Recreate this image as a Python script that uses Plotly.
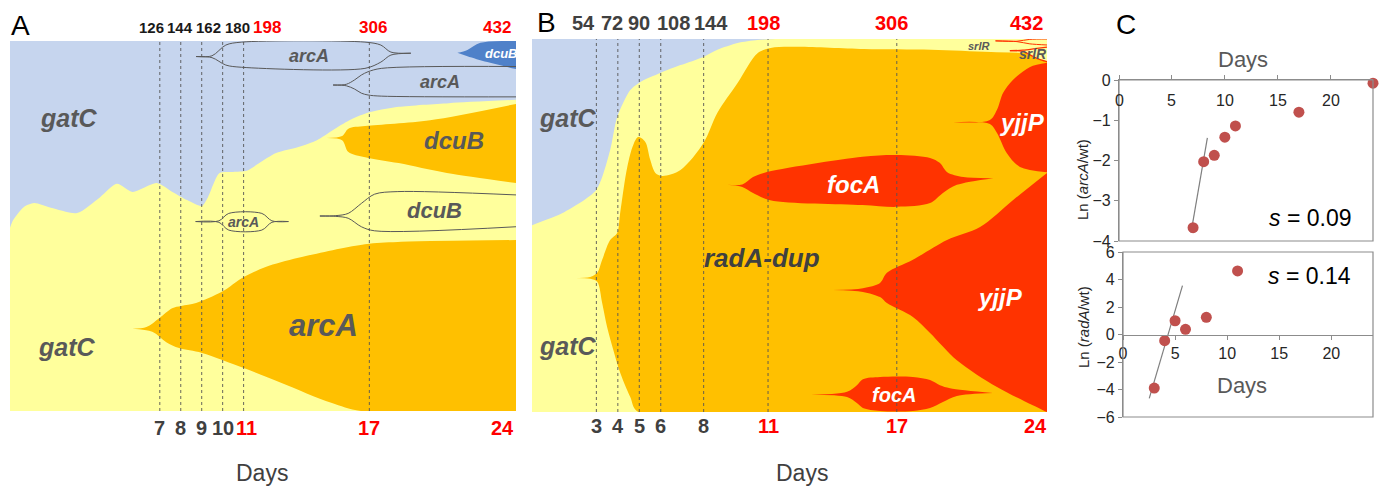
import plotly.graph_objects as go

W, H = 1385, 489

# ---------------- Panel A: Muller plot (frequency %, by day) ----------------
A_days = [7, 8, 9, 10, 11, 17, 24]
A_gens = [126, 144, 162, 180, 198, 306, 432]
A_sequenced = [11, 17, 24]

A_gatC_day = [-0.15, 0, 0.5, 1.0, 1.8, 3.05, 4.15, 4.95, 5.7, 6.85, 7.6, 8.3, 9.0, 9.3,
              9.85, 10.5, 11.15, 11.75, 12.55, 13.65, 14.5, 15.25, 16.05, 16.85, 18.4, 20.8, 24]
A_gatC_freq = [49.5, 51.6, 55.1, 56.2, 54.9, 53.5, 57.8, 61.4, 59.2, 61.6, 59.2, 57.0, 55.4, 57.8,
               64.3, 64.6, 64.9, 67.0, 69.7, 71.4, 73.2, 75.9, 78.6, 80.5, 82.2, 83.2, 84.1]

A_arcA_up_day = [5.69, 6.36, 6.97, 7.59, 8.02, 8.73, 9.96, 11.01, 12.05, 13.61, 16.79, 18.36, 24]
A_arcA_up = [22.2, 22.7, 25.1, 27.8, 28.4, 29.2, 32.2, 36.2, 38.9, 41.4, 45.1, 45.7, 46.2]
A_arcA_lo_day = [5.69, 6.64, 7.31, 7.92, 9.01, 11.01, 12.81, 15.18, 16.6, 24]
A_arcA_lo = [22.2, 21.4, 18.6, 17.0, 15.7, 11.6, 7.6, 2.2, 0, 0]

A_dcuB_up_day = [14.94, 15.7, 16.0, 16.8, 19.9, 24]
A_dcuB_up = [73.8, 74.3, 76.3, 77.0, 78.6, 83.0]
A_dcuB_lo_day = [14.94, 15.7, 16.0, 16.8, 18.4, 20.7, 24]
A_dcuB_lo = [73.8, 73.2, 70.0, 68.6, 67.0, 64.3, 61.6]

A_dcuB2_up_day = [21.2, 21.68, 22.3, 24]
A_dcuB2_up = [96.8, 97.6, 99.5, 100]
A_dcuB2_lo_day = [21.2, 21.68, 22.63, 24]
A_dcuB2_lo = [96.8, 95.9, 94.3, 92.4]

# outlined (sub-threshold) lineages in A
A_arcA1_day = [8.73, 9.49, 10.15, 10.91, 16.79, 17.55, 18.03, 18.98]
A_arcA1_up = [95.8, 96.0, 98.9, 99.7, 99.7, 98.9, 97.0, 96.7]
A_arcA1_lo = [95.8, 95.5, 93.5, 92.9, 92.6, 94.3, 96.2, 96.7]

A_arcA2_day = [15.27, 15.9, 16.3, 16.62, 16.94, 17.57, 24]
A_arcA2_up = [88.1, 88.3, 89.5, 90.8, 91.7, 92.6, 93.1]
A_arcA2_lo = [88.1, 87.9, 87.0, 85.9, 85.4, 85.1, 84.9]

A_arcA3_day = [8.71, 9.82, 10.29, 11.87, 12.35, 13.14]
A_arcA3_up = [51.2, 51.4, 53.4, 53.4, 51.4, 51.2]
A_arcA3_lo = [51.2, 51.0, 48.9, 48.9, 51.0, 51.2]

A_dcuB3_up_day = [14.64, 15.4, 15.99, 16.62, 17.25, 18.36, 24]
A_dcuB3_up = [52.7, 52.8, 53.4, 56.1, 58.6, 59.3, 58.4]
A_dcuB3_lo_day = [14.64, 15.4, 15.99, 16.62, 17.25, 24]
A_dcuB3_lo = [52.7, 52.6, 52.1, 49.8, 48.7, 49.8]

# ---------------- Panel B: Muller plot ----------------
B_days = [3, 4, 5, 6, 8, 11, 17, 24]
B_gens = [54, 72, 90, 108, 144, 198, 306, 432]
B_sequenced = [11, 17, 24]

B_gatC_day = [0, 1.45, 2.99, 3.64, 3.97, 4.58, 5.05, 5.98, 6.92, 7.99, 8.64, 9.58, 10.51, 11.36, 24]
B_gatC_freq = [50.1, 53.4, 59.5, 70.2, 79.1, 86.3, 88.5, 90.9, 93.0, 95.2, 97.1, 98.9, 99.7, 100, 100]

B_radA_up_day = [1.78, 2.71, 3.04, 3.27, 3.64, 3.97, 4.11, 4.44, 4.72, 4.95, 5.28, 5.51, 5.75, 6.07,
                 6.92, 7.99, 8.64, 9.58, 10.51, 11.12, 12.38, 15.47, 18.6, 21.4, 24]
B_radA_up = [35.9, 36.2, 37.3, 40.8, 46.1, 48.0, 53.4, 65.7, 71.6, 73.7, 72.4, 67.6, 64.1, 63.3,
             64.9, 72.1, 80.2, 88.2, 96.2, 97.6, 97.9, 97.3, 97.1, 96.5, 96.2]
B_radA_lo_day = [1.78, 2.71, 3.04, 3.27, 3.5, 3.79, 4.11, 4.58, 4.95, 24]
B_radA_lo = [35.9, 35.7, 34.9, 29.2, 22.8, 16.6, 10.5, 4.0, 0, 0]

B_focA1_up_day = [9.1, 9.8, 10.3, 10.8, 15.4, 17.0, 18.55, 19.0, 19.35, 20.1, 21.5]
B_focA1_up = [60.9, 61.0, 63.0, 64.1, 68.4, 68.9, 68.1, 66.8, 64.3, 63.0, 62.7]
B_focA1_lo_day = [9.1, 9.8, 10.3, 11.1, 15.4, 17.0, 18.55, 19.15, 19.8, 21.5]
B_focA1_lo = [60.9, 60.3, 58.7, 56.8, 55.5, 55.0, 56.0, 58.7, 60.9, 62.7]

B_yjjP1_up_day = [19.62, 21.34, 21.67, 21.95, 22.41, 23.21, 24]
B_yjjP1_up = [77.7, 78.3, 81.0, 85.5, 89.0, 92.5, 93.6]
B_yjjP1_lo_day = [19.62, 21.34, 21.67, 22.13, 22.74, 24]
B_yjjP1_lo = [77.7, 77.2, 74.8, 69.4, 65.7, 64.3]

B_yjjP2_up_day = [14.03, 15.42, 16.22, 16.54, 17.75, 19.34, 20.88, 22.41, 24]
B_yjjP2_up = [32.7, 33.2, 34.6, 37.3, 40.8, 46.1, 49.6, 56.8, 64.1]
B_yjjP2_lo_day = [14.03, 15.42, 16.22, 16.54, 17.75, 18.55, 19.8, 21.67, 23.81, 24]
B_yjjP2_lo = [32.7, 32.2, 30.8, 29.2, 25.5, 21.2, 13.9, 6.7, 0.5, 0]

B_focA2_up_day = [12.63, 14.68, 15.14, 15.42, 16.22, 17.75, 18.55, 19.01, 19.48, 21.48]
B_focA2_up = [4.6, 5.4, 7.2, 8.8, 9.4, 9.4, 8.6, 7.2, 6.4, 5.1]
B_focA2_lo_day = [12.63, 14.68, 15.14, 15.42, 16.22, 17.75, 18.55, 19.15, 19.8, 21.48]
B_focA2_lo = [4.6, 4.0, 2.4, 1.1, 0.3, 0.3, 1.1, 2.7, 4.3, 5.1]

B_srlR1_day = [21.6, 22.6, 23.2, 24]
B_srlR1_up = [99.5, 99.4, 99.9, 100]
B_srlR1_lo = [99.5, 99.3, 98.7, 98.4]

B_srlR2_day = [22.27, 22.88, 23.53, 24]
B_srlR2_up = [96.9, 97.0, 97.5, 97.8]
B_srlR2_lo = [96.9, 96.6, 94.8, 93.9]

# ---------------- Panel C: ln ratios ----------------
C_arcA_day = [7, 8, 9, 10, 11, 17, 24]
C_arcA_ln = [-3.67, -2.03, -1.87, -1.42, -1.14, -0.80, -0.08]
C_arcA_fit_day = [6.8, 8.35]
C_arcA_fit_ln = [-3.8, -1.44]
C_arcA_s = 0.09

C_radA_day = [3, 4, 5, 6, 8, 11]
C_radA_ln = [-3.9, -0.45, 1.0, 0.38, 1.25, 4.62]
C_radA_fit_day = [2.52, 5.71]
C_radA_fit_ln = [-4.64, 3.55]
C_radA_s = 0.14

C_ticks_x = [0, 5, 10, 15, 20]
C_ticks_y1 = [0, -1, -2, -3, -4]
C_ticks_y2 = [6, 4, 2, 0, -2, -4, -6]

# ---------------- styling ----------------
BLUE = '#C6D5EE'
YELLOW = '#FFFF9C'
ORANGE = '#FFC000'
RED = '#FF3300'
DBLUE = '#4F81C9'
GRAY = '#595959'
DARK = '#404040'
FONT = 'Arial, Liberation Sans, sans-serif'

fig = go.Figure()


def curve(x, y, xa, ya, color='rgba(0,0,0,0)', width=0, fill=None, fillcolor=None, smoothing=0.9):
    fig.add_trace(go.Scatter(x=x, y=y, xaxis=xa, yaxis=ya, mode='lines',
                             line=dict(color=color, width=width, shape='spline', smoothing=smoothing),
                             fill=fill, fillcolor=fillcolor, hoverinfo='skip', showlegend=False))


def region(up_d, up_v, lo_d, lo_v, xa, ya, color, edge=None):
    w = 1.2 if edge else 0
    c = edge if edge else 'rgba(0,0,0,0)'
    curve(lo_d, lo_v, xa, ya, color=c, width=w)
    curve(up_d, up_v, xa, ya, color=c, width=w, fill='tonexty', fillcolor=color)


def outline(up_d, up_v, lo_d, lo_v, xa, ya, color=GRAY):
    curve(up_d, up_v, xa, ya, color=color, width=1)
    curve(lo_d, lo_v, xa, ya, color=color, width=1)


# Panel A
curve(A_gatC_day, A_gatC_freq, 'x', 'y', fill='tozeroy', fillcolor=YELLOW, smoothing=0.7)
region(A_arcA_up_day, A_arcA_up, A_arcA_lo_day, A_arcA_lo, 'x', 'y', ORANGE)
region(A_dcuB_up_day, A_dcuB_up, A_dcuB_lo_day, A_dcuB_lo, 'x', 'y', ORANGE)
region(A_dcuB2_up_day, A_dcuB2_up, A_dcuB2_lo_day, A_dcuB2_lo, 'x', 'y', DBLUE)
outline(A_arcA1_day, A_arcA1_up, A_arcA1_day, A_arcA1_lo, 'x', 'y')
outline(A_arcA2_day, A_arcA2_up, A_arcA2_day, A_arcA2_lo, 'x', 'y')
outline(A_arcA3_day, A_arcA3_up, A_arcA3_day, A_arcA3_lo, 'x', 'y')
outline(A_dcuB3_up_day, A_dcuB3_up, A_dcuB3_lo_day, A_dcuB3_lo, 'x', 'y')

# Panel B
curve(B_gatC_day, B_gatC_freq, 'x2', 'y2', fill='tozeroy', fillcolor=YELLOW, smoothing=0.7)
region(B_radA_up_day, B_radA_up, B_radA_lo_day, B_radA_lo, 'x2', 'y2', ORANGE)
region(B_focA1_up_day, B_focA1_up, B_focA1_lo_day, B_focA1_lo, 'x2', 'y2', RED)
region(B_yjjP1_up_day, B_yjjP1_up, B_yjjP1_lo_day, B_yjjP1_lo, 'x2', 'y2', RED)
region(B_yjjP2_up_day, B_yjjP2_up, B_yjjP2_lo_day, B_yjjP2_lo, 'x2', 'y2', RED)
region(B_focA2_up_day, B_focA2_up, B_focA2_lo_day, B_focA2_lo, 'x2', 'y2', RED)
outline(B_srlR1_day, B_srlR1_up, B_srlR1_day, B_srlR1_lo, 'x2', 'y2', color=RED)
region(B_srlR2_day, B_srlR2_up, B_srlR2_day, B_srlR2_lo, 'x2', 'y2', YELLOW, edge=RED)

# Panel C
for xa, ya, d, v, fd, fv in [('x3', 'y3', C_arcA_day, C_arcA_ln, C_arcA_fit_day, C_arcA_fit_ln),
                             ('x4', 'y4', C_radA_day, C_radA_ln, C_radA_fit_day, C_radA_fit_ln)]:
    fig.add_trace(go.Scatter(x=fd, y=fv, xaxis=xa, yaxis=ya, mode='lines',
                             line=dict(color='#7F7F7F', width=1.2), showlegend=False, hoverinfo='skip'))
    fig.add_trace(go.Scatter(x=d, y=v, xaxis=xa, yaxis=ya, mode='markers', cliponaxis=False,
                             marker=dict(color='#C0504D', size=11), showlegend=False))

shapes = []
for xa, ya in [('x', 'y'), ('x2', 'y2')]:
    shapes.append(dict(type='rect', xref=xa + ' domain', yref=ya + ' domain', x0=0, x1=1, y0=0, y1=1,
                       fillcolor=BLUE, line=dict(width=0), layer='below'))
for d in A_days[:-1]:
    shapes.append(dict(type='line', xref='x', yref='y domain', x0=d, x1=d, y0=0, y1=1,
                       line=dict(color='#555555', width=0.9, dash='3px,3px')))
for d in B_days[:-1]:
    shapes.append(dict(type='line', xref='x2', yref='y2 domain', x0=d, x1=d, y0=0, y1=1,
                       line=dict(color='#555555', width=0.9, dash='3px,3px')))
for xa, ya in [('x3', 'y3'), ('x4', 'y4')]:
    shapes.append(dict(type='rect', xref=xa + ' domain', yref=ya + ' domain', x0=0, x1=1, y0=0, y1=1,
                       line=dict(color='#8C8C8C', width=1.2)))

ann = []


def text(x, y, s, size, color, xref='paper', yref='paper', family=FONT, xanchor='center', **kw):
    ann.append(dict(x=x, y=y, xref=xref, yref=yref, text=s, showarrow=False,
                    xanchor=xanchor, yanchor='middle',
                    font=dict(family=family, size=size, color=color), **kw))


def py(p):
    return 1 - p / H


def px(p):
    return p / W


# panel letters
text(px(20), py(25), 'A', 28, 'black')
text(px(546), py(22), 'B', 28, 'black')
text(px(1126), py(24), 'C', 28, 'black')

# generation / day labels
A_top_shift = [-8, -1, 7, 15, 23, 4, -3]
for d, g, sh in zip(A_days, A_gens, A_top_shift):
    c = 'red' if d in A_sequenced else '#1A1A1A'
    anc = 'right' if d == A_days[-1] else 'center'
    size = 17 if d in A_sequenced else 15
    text(d, py(27), '<b>%d</b>' % g, size, c, xref='x', xanchor=anc, xshift=sh)
    text(d, py(428), '<b>%d</b>' % d, 20, 'red' if d in A_sequenced else DARK, xref='x',
         xanchor=anc, xshift=(3 if d == 11 else 0))
B_top_shift = [-13, -6, 0, 13, 7, -5, -5, -2]
for d, g, sh in zip(B_days, B_gens, B_top_shift):
    c = 'red' if d in B_sequenced else DARK
    anc = 'right' if d == B_days[-1] else 'center'
    text(d, py(23), '<b>%d</b>' % g, 20, c, xref='x2', xanchor=anc, xshift=sh)
    text(d, py(426), '<b>%d</b>' % d, 20, c, xref='x2', xanchor=anc, xshift=(2 if d == 24 else 0))

text(px(262), py(473), 'Days', 23, DARK)
text(px(802), py(473), 'Days', 23, DARK)

# lineage names, panel A
bi = lambda s: '<b><i>%s</i></b>' % s
text(2.66, 79.2, bi('gatC'), 25, GRAY, 'x', 'y')
text(2.56, 17.3, bi('gatC'), 25, GRAY, 'x', 'y')
text(14.8, 23.2, bi('arcA'), 31, GRAY, 'x', 'y')
text(21.06, 73.0, bi('dcuB'), 24, GRAY, 'x', 'y')
text(20.1, 54.1, bi('dcuB'), 22, GRAY, 'x', 'y')
text(14.14, 95.9, bi('arcA'), 18, GRAY, 'x', 'y')
text(20.35, 88.9, bi('arcA'), 18, GRAY, 'x', 'y')
text(11.0, 51.1, bi('arcA'), 14, GRAY, 'x', 'y')
text(23.3, 96.5, bi('dcuB'), 13, 'white', 'x', 'y')

# lineage names, panel B
text(1.68, 78.8, bi('gatC'), 25, GRAY, 'x2', 'y2')
text(1.68, 17.7, bi('gatC'), 25, GRAY, 'x2', 'y2')
text(10.72, 41.3, bi('radA-dup'), 26, DARK, 'x2', 'y2')
text(14.96, 61.1, bi('focA'), 24, 'white', 'x2', 'y2')
text(22.88, 77.7, bi('yjjP'), 24, 'white', 'x2', 'y2')
text(21.81, 30.8, bi('yjjP'), 24, 'white', 'x2', 'y2')
text(16.87, 4.6, bi('focA'), 20, 'white', 'x2', 'y2')
text(20.83, 98.1, bi('srlR'), 11, GRAY, 'x2', 'y2')
text(23.35, 96.0, bi('srlR'), 14, GRAY, 'x2', 'y2')

# panel C texts
text(px(1243), py(59), 'Days', 22, GRAY)
text(px(1242), py(385), 'Days', 22, GRAY)
text(px(1082), py(180), 'Ln (<i>arcA</i>/wt)', 15, '#262626', textangle=-90)
text(px(1083), py(327), 'Ln (<i>radA</i>/wt)', 15, '#262626', textangle=-90)
text(18.05, -3.43, '<i>s</i> = %.2f' % C_arcA_s, 23, 'black', 'x3', 'y3')
text(17.95, 4.25, '<i>s</i> = %.2f' % C_radA_s, 23, 'black', 'x4', 'y4')
# top-panel day ticks sit just under the y = 0 line
for t in C_ticks_x:
    text(t, -0.5, str(t), 16, '#262626', 'x3', 'y3')

hid = dict(visible=False, fixedrange=True)
cax = dict(showgrid=False, zeroline=False, showline=True, linecolor='#8C8C8C', linewidth=1.2,
           ticks='outside', ticklen=4, tickcolor='#8C8C8C', automargin=False,
           tickfont=dict(family=FONT, size=16, color='#262626'))

fig.update_layout(
    width=W, height=H, margin=dict(l=0, r=0, t=0, b=0, pad=0, autoexpand=False),
    paper_bgcolor='white', plot_bgcolor='rgba(0,0,0,0)', showlegend=False,
    xaxis=dict(domain=[px(10), px(516)], range=[-0.15, 24], anchor='y', **hid),
    yaxis=dict(domain=[py(411), py(41)], range=[0, 100], anchor='x', **hid),
    xaxis2=dict(domain=[px(532), px(1047)], range=[0, 24], anchor='y2', **hid),
    yaxis2=dict(domain=[py(412), py(39)], range=[0, 100], anchor='x2', **hid),
    xaxis3=dict(domain=[px(1119), px(1373)], range=[0, 24], anchor='y3', side='top',
                showticklabels=False, tickvals=C_ticks_x, **cax),
    yaxis3=dict(domain=[py(241), py(80)], range=[-4, 0], anchor='x3', tickvals=C_ticks_y1, **cax),
    xaxis4=dict(domain=[px(1123), px(1373)], range=[0, 24], anchor='free', position=py(334.5),
                tickvals=C_ticks_x, **cax),
    yaxis4=dict(domain=[py(417), py(252)], range=[-6, 6], anchor='x4', tickvals=C_ticks_y2, **cax),
    shapes=shapes, annotations=ann,
)

# the page's default 8px body margin would shift the whole figure; remove it
fig.write_html('out.html', config={'displayModeBar': False},
               post_script="document.body.style.margin='0px';")
